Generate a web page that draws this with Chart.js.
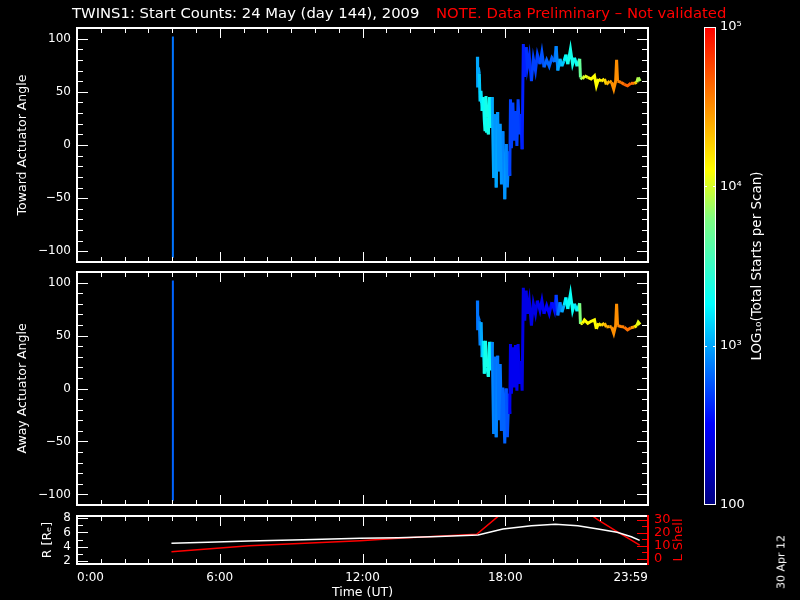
<!DOCTYPE html>
<html>
<head>
<meta charset="utf-8">
<script src="https://cdn.jsdelivr.net/npm/chart.js@4.4.1/dist/chart.umd.min.js"></script>
<style>
  html, body { margin: 0; padding: 0; background: #000; }
  #wrap { position: relative; width: 800px; height: 600px; background: #000; overflow: hidden;
          font-family: "DejaVu Sans", sans-serif; color: #fff; }
  #wrap canvas { position: absolute; left: 0; top: 0; }
  .txt { position: absolute; white-space: nowrap; }
</style>
</head>
<body>
<div id="wrap">
  <canvas id="toward" width="800" height="600"></canvas>
  <canvas id="away" width="800" height="600"></canvas>
  <canvas id="orbit" width="800" height="600"></canvas>
  <canvas id="cbar" width="800" height="600"></canvas>
  <div class="txt" style="left:72px;top:4px;font-size:14.8px;">TWINS1: Start Counts: 24 May (day 144), 2009</div>
  <div class="txt" style="left:436px;top:4px;font-size:14.8px;color:#ff0000;">NOTE. Data Preliminary – Not validated</div>
  <div class="txt" style="left:781px;top:562px;font-size:11px;transform:translate(-50%,-50%) rotate(-90deg);">30 Apr 12</div>
</div>
<script>
// scan times (UT hours), actuator angle (deg) and log10 of total starts per scan
// a null angle breaks the trace between the 04 UT scan and the evening pass
const towardHours = [4.03, 4.03, 10.0,
  16.83, 16.84, 16.87, 16.91, 16.94, 16.98, 17.03, 17.08, 17.12, 17.15,
  17.19, 17.24, 17.29, 17.34, 17.40, 17.45, 17.51, 17.56, 17.62, 17.68,
  17.73, 17.79, 17.84, 17.90, 17.98, 18.04, 18.09, 18.15, 18.19, 18.22,
  18.26, 18.32, 18.37, 18.43, 18.49, 18.54, 18.60, 18.65, 18.71, 18.76,
  18.82, 18.88, 18.93, 19.01, 19.10, 19.18, 19.27, 19.35, 19.46, 19.54,
  19.63, 19.74, 19.85, 19.96, 20.07, 20.14, 20.21, 20.30, 20.38, 20.47,
  20.55, 20.63, 20.74, 20.83, 20.91, 21.02, 21.13, 21.16, 21.25, 21.33,
  21.47, 21.61, 21.75, 21.83, 21.92, 22.03, 22.17, 22.25, 22.39, 22.47,
  22.56, 22.64, 22.68, 22.72, 22.86, 23.00, 23.14, 23.28, 23.42, 23.53,
  23.59, 23.67];
const towardAngle = [102, -106, null,
  83, 54, 73, 67, 41, 51, 32, 45, 23, 13,
  46, 26, 10, 45, 16, 45, -31, 29, -40, 31,
  -25, 20, -37, 13, -51, 1, -40, -6, -29, 43,
  -3, 40, 4, 32, -1, 43, 10, 29, -4, 95,
  64, 92, 73, 84, 60, 81, 70, 85, 76, 87,
  73, 80, 74, 82, 78, 93, 70, 81, 74, 79,
  85, 76, 90, 76, 82, 74, 81, 63.5, 62, 65,
  63.5, 62, 65, 55.6, 62, 60, 62, 57, 60, 59,
  52.5, 60, 80, 60, 59, 57, 55.6, 58, 58, 59,
  63.5, 60];
const towardLog10 = [2.85, 2.85, 2.85,
  3.0, 3.0, 3.0, 3.0, 3.1, 3.2, 3.2, 3.3, 3.3, 3.3,
  3.35, 3.35, 3.3, 3.35, 3.3, 3.3, 3.0, 3.0, 2.95, 3.0,
  2.95, 2.95, 2.95, 2.95, 2.9, 2.95, 2.9, 2.9, 2.85, 2.7,
  2.7, 2.7, 2.7, 2.7, 2.7, 2.7, 2.7, 2.7, 2.65, 2.6,
  2.6, 2.6, 2.65, 2.65, 2.65, 2.7, 2.7, 2.7, 2.7, 2.75,
  2.75, 2.8, 2.8, 2.8, 2.8, 2.85, 2.9, 3.0, 3.05, 3.1,
  3.25, 3.3, 3.35, 3.35, 3.35, 3.3, 3.4, 3.7, 3.85, 4.0,
  4.05, 4.1, 4.1, 4.1, 4.1, 4.12, 4.15, 4.25, 4.35, 4.45,
  4.5, 4.5, 4.5, 4.5, 4.55, 4.6, 4.65, 4.65, 4.6, 4.3,
  3.95, 3.9];

const awayHours = [4.03, 4.03, 10.0,
  16.83, 16.84, 16.87, 16.91, 16.94, 16.98, 17.03, 17.08, 17.12, 17.17,
  17.23, 17.29, 17.34, 17.40, 17.45, 17.51, 17.56, 17.62, 17.68, 17.73,
  17.79, 17.84, 17.90, 17.98, 18.04, 18.09, 18.15, 18.19, 18.22, 18.26,
  18.32, 18.37, 18.43, 18.49, 18.54, 18.60, 18.65, 18.71, 18.76, 18.82,
  18.88, 18.93, 19.01, 19.10, 19.18, 19.27, 19.35, 19.46, 19.54, 19.63,
  19.74, 19.85, 19.96, 20.07, 20.14, 20.21, 20.30, 20.38, 20.47, 20.55,
  20.63, 20.74, 20.83, 20.91, 21.02, 21.13, 21.16, 21.25, 21.33, 21.47,
  21.61, 21.75, 21.83, 21.92, 22.03, 22.17, 22.25, 22.39, 22.47, 22.56,
  22.64, 22.68, 22.72, 22.86, 23.00, 23.14, 23.28, 23.42, 23.53, 23.59,
  23.67];
const awayAngle = [102, -106, null,
  83, 55, 67, 64, 42, 62.6, 29.6, 45, 14, 45,
  20, 11, 44, 17, 44, -43, 30, -46, 31, -30,
  23, -40, 1, -52, 0, -46, -5, -24, 42, -5,
  39, 1, 41, -2, 42, 4.4, 26, -2, 95, 64,
  92.5, 70.5, 83, 59.4, 80, 70.5, 83, 73.6, 83, 70.5,
  78.3, 70.5, 81.5, 73.6, 88.4, 69, 81.5, 72, 78.3, 86,
  75, 89.3, 73.6, 80, 73, 80.5, 61, 61.6, 64.8, 61.6,
  63.5, 64.8, 56.3, 61.6, 59.4, 61.6, 58, 58.5, 58, 52,
  59.4, 80, 59.4, 58.5, 58, 55.4, 57.3, 58, 59.4, 62.6,
  60.4];
const awayLog10 = [2.8, 2.8, 2.8,
  2.85, 2.85, 2.85, 2.85, 2.9, 2.9, 3.0, 3.1, 3.2, 3.35,
  3.35, 3.3, 3.35, 3.3, 3.3, 2.9, 2.9, 2.85, 2.9, 2.85,
  2.85, 2.85, 2.8, 2.8, 2.8, 2.75, 2.75, 2.7, 2.45, 2.45,
  2.45, 2.45, 2.45, 2.45, 2.45, 2.45, 2.45, 2.4, 2.4, 2.4,
  2.4, 2.4, 2.4, 2.4, 2.4, 2.4, 2.4, 2.45, 2.45, 2.45,
  2.5, 2.5, 2.5, 2.55, 2.55, 2.7, 2.85, 2.9, 3.0, 3.2,
  3.25, 3.3, 3.3, 3.3, 3.2, 3.3, 3.8, 4.05, 4.1, 4.1,
  4.1, 4.1, 4.1, 4.12, 4.15, 4.25, 4.35, 4.4, 4.45, 4.5,
  4.5, 4.5, 4.5, 4.55, 4.55, 4.6, 4.6, 4.45, 4.15, 4.05,
  4.05];

// spacecraft radial distance (Re) and L shell along the orbit
const orbitHours = [3.97, 5.5, 7.24, 9.5, 11.9, 13.5, 15.2, 16.86, 17.9, 19.1, 20.1, 21.05, 21.9, 22.7, 23.3, 23.65];
const orbitR = [4.49, 4.62, 4.81, 5.0, 5.19, 5.27, 5.45, 5.65, 6.48, 6.95, 7.14, 6.95, 6.48, 6.02, 5.41, 4.9];
const lshellHours = [3.97, 7.24, 11.9, 13.5, 16.8, 17.75, 18.3, 21.0, 21.67, 21.9, 22.7, 23.65];
const lshellValue = [5.5, 10.1, 14.0, 15.8, 18.9, 33.5, 45, 43, 33, 30.1, 20.9, 10.5];

const angleTicks = [-100, -50, 0, 50, 100];
const rTicks = [2, 4, 6, 8];
const lTicks = [0, 10, 20, 30];
const timeTicks = [0, 6, 12, 18, 24];
const timeLabels = ['0:00', '6:00', '12:00', '18:00', '23:59'];
const cbarTicks = [2, 3, 4, 5];
const cbarLabels = ['100', '10³', '10⁴', '10⁵'];

// rainbow colour table, position 0..1 along log10 100..1e5
const cmapStops = [[0, '#000080'], [0.17, '#0000ff'], [0.42, '#00ffff'], [0.6, '#80ff80'],
                   [0.7, '#ffff00'], [0.85, '#ff8000'], [1, '#ff0000']];

function hexRgb(h) { return [1, 3, 5].map(i => parseInt(h.substr(i, 2), 16)); }
function cmap(lg) {
  const f = Math.min(1, Math.max(0, (lg - 2) / 3));
  for (let i = 1; i < cmapStops.length; i++) {
    if (f <= cmapStops[i][0]) {
      const [f0, c0] = cmapStops[i - 1], [f1, c1] = cmapStops[i];
      const t = (f - f0) / (f1 - f0), a = hexRgb(c0), b = hexRgb(c1);
      return 'rgb(' + a.map((v, k) => Math.round(v + (b[k] - v) * t)).join(',') + ')';
    }
  }
  return cmapStops[cmapStops.length - 1][1];
}

Chart.defaults.font.family = 'DejaVu Sans';
Chart.defaults.color = '#fff';

// white box with inward ticks, IDL style
const framePlugin = {
  id: 'frame',
  afterDatasetsDraw(chart, args, o) {
    if (!o.left) return;
    const { ctx, chartArea: a, scales } = chart;
    const seg = (x1, y1, x2, y2, c) => { ctx.strokeStyle = c; ctx.beginPath(); ctx.moveTo(x1, y1); ctx.lineTo(x2, y2); ctx.stroke(); };
    ctx.save();
    ctx.lineWidth = 1;
    for (let h = 0; h <= 24; h++) {
      const px = Math.round(scales.x.getPixelForValue(h)) + 0.5;
      const len = h % 6 === 0 ? 10 : 5;
      seg(px, a.top, px, a.top + len, '#fff');
      seg(px, a.bottom, px, a.bottom - len, '#fff');
    }
    const ySide = (spec, x0, dir) => {
      const s = scales[spec.axis];
      for (let v = Math.ceil(s.min / spec.minor) * spec.minor; v <= s.max + 1e-9; v += spec.minor) {
        const py = Math.round(s.getPixelForValue(v)) + 0.5;
        const major = Math.abs(v / spec.major - Math.round(v / spec.major)) < 1e-6;
        seg(x0, py, x0 + dir * (major ? 11 : 6), py, spec.color);
      }
    };
    ySide(o.left, a.left, 1);
    ySide(o.right || o.left, a.right, -1);
    ctx.lineWidth = 2;
    seg(a.left, a.top, a.right, a.top, '#fff');
    seg(a.left, a.bottom, a.right, a.bottom, '#fff');
    seg(a.left, a.top - 1, a.left, a.bottom + 1, '#fff');
    seg(a.right, a.top - 1, a.right, a.bottom + 1, o.right ? o.right.color : '#fff');
    ctx.restore();
  }
};

// right-hand titles read bottom to top
const sideTitle = {
  id: 'sideTitle',
  afterDraw(chart, args, o) {
    if (!o.text) return;
    const s = chart.scales[o.axis], ctx = chart.ctx;
    ctx.save();
    ctx.translate(s.left + o.offset, (s.top + s.bottom) / 2);
    ctx.rotate(-Math.PI / 2);
    ctx.fillStyle = o.color;
    ctx.font = o.font;
    ctx.textAlign = 'center';
    ctx.textBaseline = 'middle';
    ctx.fillText(o.text, 0, 0);
    ctx.restore();
  }
};
Chart.register(framePlugin, sideTitle);

const tickFont = { size: 12, lineHeight: 1.2 };
const titleFont = { size: 12.5, lineHeight: 1.2 };

function anglePanel(id, hours, angle, logs, label, top, bottom) {
  return new Chart(document.getElementById(id), {
    type: 'line',
    data: {
      datasets: [{
        data: hours.map((h, i) => ({ x: h, y: angle[i] })),
        borderWidth: 3,
        pointRadius: 0,
        spanGaps: false,
        clip: 0,
        segment: {
          borderColor: c => cmap(logs[c.p1DataIndex]),
          borderWidth: c => (c.p0.parsed.x < 12 ? 2 : 3)
        }
      }]
    },
    options: {
      responsive: false,
      animation: false,
      layout: { padding: { left: 0, top: top, right: 152, bottom: 600 - bottom } },
      plugins: {
        legend: { display: false },
        tooltip: { enabled: false },
        frame: { left: { axis: 'y', minor: 10, major: 50, color: '#fff' } }
      },
      scales: {
        x: { type: 'linear', min: 0, max: 24, display: false },
        y: {
          min: -110, max: 110,
          afterFit: s => { s.width = 77; },
          afterBuildTicks: s => { s.ticks = angleTicks.map(v => ({ value: v })); },
          grid: { display: false, drawTicks: false },
          border: { display: false },
          ticks: { color: '#fff', padding: 6, autoSkip: false, font: tickFont,
                   callback: v => (v < 0 ? '−' + Math.abs(v) : String(v)) },
          title: { display: true, text: label, color: '#fff', font: titleFont, padding: { top: 15, bottom: 0 } }
        }
      }
    }
  });
}

anglePanel('toward', towardHours, towardAngle, towardLog10, 'Toward Actuator Angle', 28, 262);
anglePanel('away', awayHours, awayAngle, awayLog10, 'Away Actuator Angle', 272, 505);

new Chart(document.getElementById('orbit'), {
  type: 'line',
  data: {
    datasets: [
      { data: orbitHours.map((h, i) => ({ x: h, y: orbitR[i] })), yAxisID: 'y', borderColor: '#ffffff',
        borderWidth: 1.5, pointRadius: 0, clip: 0 },
      { data: lshellHours.map((h, i) => ({ x: h, y: lshellValue[i] })), yAxisID: 'yL', borderColor: '#ff0000',
        borderWidth: 1.5, pointRadius: 0, clip: 0 }
    ]
  },
  options: {
    responsive: false,
    animation: false,
    layout: { padding: { left: 0, top: 516, right: 100, bottom: 0 } },
    plugins: {
      legend: { display: false },
      tooltip: { enabled: false },
      frame: {
        left: { axis: 'y', minor: 1, major: 2, color: '#fff' },
        right: { axis: 'yL', minor: 5, major: 10, color: '#ff0000' }
      },
      sideTitle: { axis: 'yL', text: 'L Shell', offset: 31, color: '#ff0000', font: '13px "DejaVu Sans"' }
    },
    scales: {
      x: {
        type: 'linear', min: 0, max: 24,
        afterFit: s => { s.height = 36; },
        afterBuildTicks: s => { s.ticks = timeTicks.map(v => ({ value: v })); },
        grid: { display: false, drawTicks: false },
        border: { display: false },
        ticks: { color: '#fff', padding: 7, align: 'inner', maxRotation: 0, autoSkip: false, font: tickFont,
                 callback: (v, i) => timeLabels[i] },
        title: { display: true, text: 'Time (UT)', color: '#fff', font: titleFont, padding: { top: 0, bottom: 0 } }
      },
      y: {
        position: 'left', min: 1.6, max: 8.3,
        afterFit: s => { s.width = 77; },
        afterBuildTicks: s => { s.ticks = rTicks.map(v => ({ value: v })); },
        grid: { display: false, drawTicks: false },
        border: { display: false },
        ticks: { color: '#fff', padding: 6, autoSkip: false, font: tickFont },
        title: { display: true, text: 'R [Rₑ]', color: '#fff', font: titleFont, padding: { top: 40, bottom: 0 } }
      },
      yL: {
        position: 'right', min: -4, max: 33,
        afterFit: s => { s.width = 52; },
        afterBuildTicks: s => { s.ticks = lTicks.map(v => ({ value: v })); },
        grid: { display: false, drawTicks: false },
        border: { display: false },
        ticks: { color: '#ff0000', padding: 6, autoSkip: false, font: { size: 13, lineHeight: 1.2 } }
      }
    }
  }
});

// colour bar: one floating bar spanning the full log range, painted with the colour table
const cbarBorder = {
  id: 'cbarBorder',
  afterDatasetsDraw(chart) {
    const { ctx, chartArea: a, scales } = chart;
    ctx.save();
    ctx.strokeStyle = '#fff';
    ctx.lineWidth = 1;
    ctx.strokeRect(a.left + 0.5, a.top + 0.5, a.right - a.left - 1, a.bottom - a.top - 1);
    [3, 4].forEach(v => {
      const py = Math.round(scales.y.getPixelForValue(v)) + 0.5;
      ctx.beginPath();
      ctx.moveTo(a.left, py); ctx.lineTo(a.left + 3, py);
      ctx.moveTo(a.right - 3, py); ctx.lineTo(a.right, py);
      ctx.stroke();
    });
    ctx.restore();
  }
};

new Chart(document.getElementById('cbar'), {
  type: 'bar',
  data: {
    labels: [''],
    datasets: [{
      data: [[cbarTicks[0], cbarTicks[cbarTicks.length - 1]]],
      barPercentage: 1,
      categoryPercentage: 1,
      borderWidth: 0,
      backgroundColor: c => {
        const ch = c.chart;
        if (!ch.chartArea) return '#000';
        const y = ch.scales.y;
        const g = ch.ctx.createLinearGradient(0, y.getPixelForValue(2), 0, y.getPixelForValue(5));
        cmapStops.forEach(s => g.addColorStop(s[0], s[1]));
        return g;
      }
    }]
  },
  options: {
    responsive: false,
    animation: false,
    layout: { padding: { left: 704, top: 27, right: 0, bottom: 95 } },
    plugins: {
      legend: { display: false },
      tooltip: { enabled: false },
      sideTitle: { axis: 'y', text: 'LOG₁₀(Total Starts per Scan)', offset: 41, color: '#fff', font: '13.5px "DejaVu Sans"' }
    },
    scales: {
      x: { display: false },
      y: {
        position: 'right', min: 2, max: 5,
        afterFit: s => { s.width = 84; },
        afterBuildTicks: s => { s.ticks = cbarTicks.map(v => ({ value: v })); },
        grid: { display: false, drawTicks: false },
        border: { display: false },
        ticks: { color: '#fff', padding: 4, autoSkip: false, font: { size: 13, lineHeight: 1.2 },
                 callback: (v, i) => cbarLabels[i] }
      }
    }
  },
  plugins: [cbarBorder]
});
</script>
</body>
</html>
